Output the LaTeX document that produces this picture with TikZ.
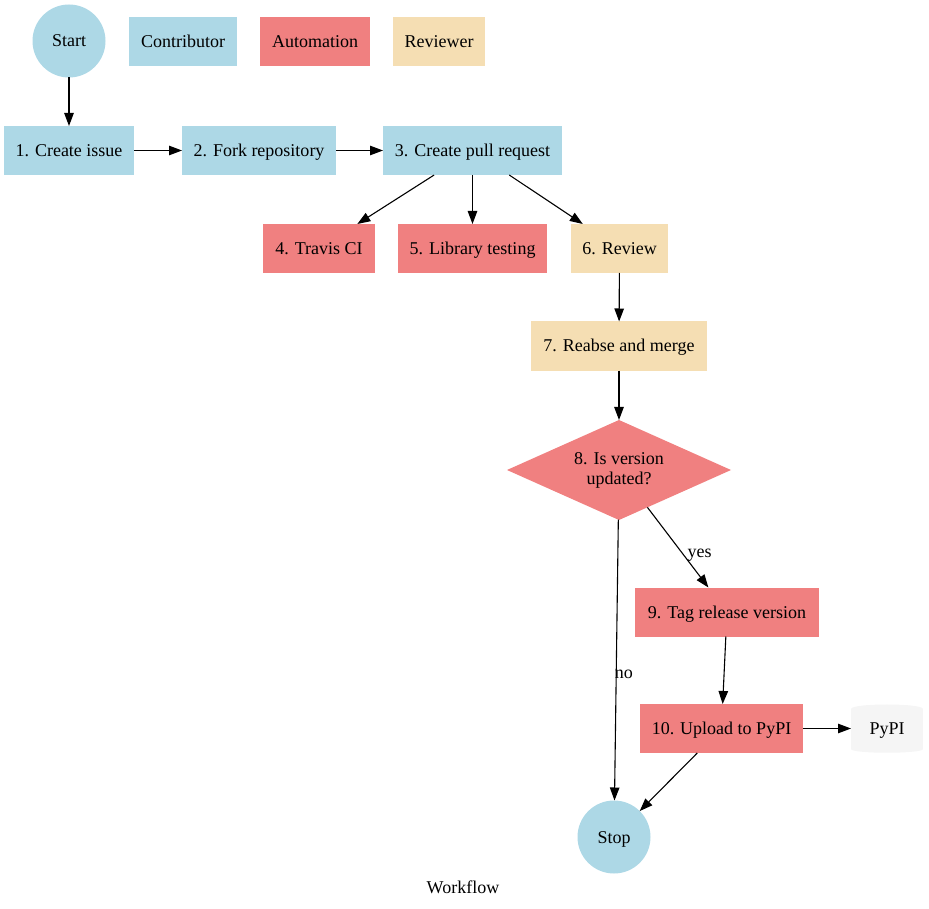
\documentclass[tikz,border=0pt]{standalone}
\usepackage{fontspec}
\setmainfont{Liberation Serif}
\usetikzlibrary{arrows.meta,shapes.geometric}
\definecolor{lblue}{RGB}{173,216,230}
\definecolor{lcoral}{RGB}{240,128,128}
\definecolor{wheatc}{RGB}{245,222,179}
\definecolor{smoke}{RGB}{245,245,245}
\tikzset{
  base/.style={inner sep=0pt, outer sep=0pt, font=\fontsize{18}{20}\selectfont, align=center},
  line1/.style={base, text height=13pt, text depth=1pt},
  contrib/.style={line1, rectangle, fill=lblue, minimum height=49},
  auto/.style={line1, rectangle, fill=lcoral, minimum height=49},
  review/.style={line1, rectangle, fill=wheatc, minimum height=49},
  term/.style={line1, circle, fill=lblue, minimum size=73},
  decide/.style={base, diamond, fill=lcoral, minimum width=224, minimum height=100, aspect=2.24},
  store/.style={line1, rectangle, fill=smoke, minimum width=72, minimum height=40},
  conn/.style={line width=1.1pt, -{Triangle[length=13pt,width=9.5pt]}},
  elabel/.style={font=\fontsize{18}{20}\selectfont, inner sep=1pt}
}
\begin{document}
\begin{tikzpicture}[x=1pt,y=-1pt]
\useasboundingbox (0,0) rectangle (929,909);
% legend
\node[term] (start) at (69,41) {Start};
\node[contrib, minimum width=108] (legc) at (183,41.5) {Contributor};
\node[auto, minimum width=110] (lega) at (315,41.5) {Automation};
\node[review, minimum width=92] (legr) at (439,41.5) {Reviewer};
% flow
\node[contrib, minimum width=130] (n1) at (69,150.5) {1. Create issue};
\node[contrib, minimum width=154] (n2) at (259,150.5) {2. Fork repository};
\node[contrib, minimum width=179] (n3) at (472.5,150.5) {3. Create pull request};
\node[auto, minimum width=112] (n4) at (319,248.5) {4. Travis CI};
\node[auto, minimum width=149] (n5) at (472.5,248.5) {5. Library testing};
\node[review, minimum width=97] (n6) at (619.5,248.5) {6. Review};
\node[review, minimum width=176] (n7) at (619,346) {7. Reabse and merge};
\node[decide] (n8) at (619,470) {8. Is version\\updated?};
\node[auto, minimum width=184] (n9) at (727,612) {9. Tag release version};
\node[auto, minimum width=163] (n10) at (721.5,728.5) {10. Upload to PyPI};
\node[store] (pypi) at (887,728.5) {PyPI};
\fill[smoke] (pypi.north west) .. controls +(0,-5.3) and +(0,-5.3) .. (pypi.north east) -- cycle;
\fill[smoke] (pypi.south west) .. controls +(0,5.3) and +(0,5.3) .. (pypi.south east) -- cycle;
\node[term] (stop) at (614,837) {Stop};
\node[line1] (title) at (463,887) {Workflow};
% connectors
\draw[conn] (start) -- (n1);
\draw[conn] (n1) -- (n2);
\draw[conn] (n2) -- (n3);
\draw[conn] (n3) -- (n4);
\draw[conn] (n3) -- (n5);
\draw[conn] (n3) -- (n6);
\draw[conn] (n6) -- (n7);
\draw[conn] (n7) -- (n8);
\draw[conn] (n8) -- node[elabel, pos=0.6, anchor=west, xshift=2pt] {yes} (n9);
\draw[conn] (n8) -- node[elabel, pos=0.55, anchor=west, xshift=-3pt] {no} (stop);
\draw[conn] (n9) -- (n10);
\draw[conn] (n10) -- (pypi);
\draw[conn] (n10) -- (stop);
\end{tikzpicture}
\end{document}
